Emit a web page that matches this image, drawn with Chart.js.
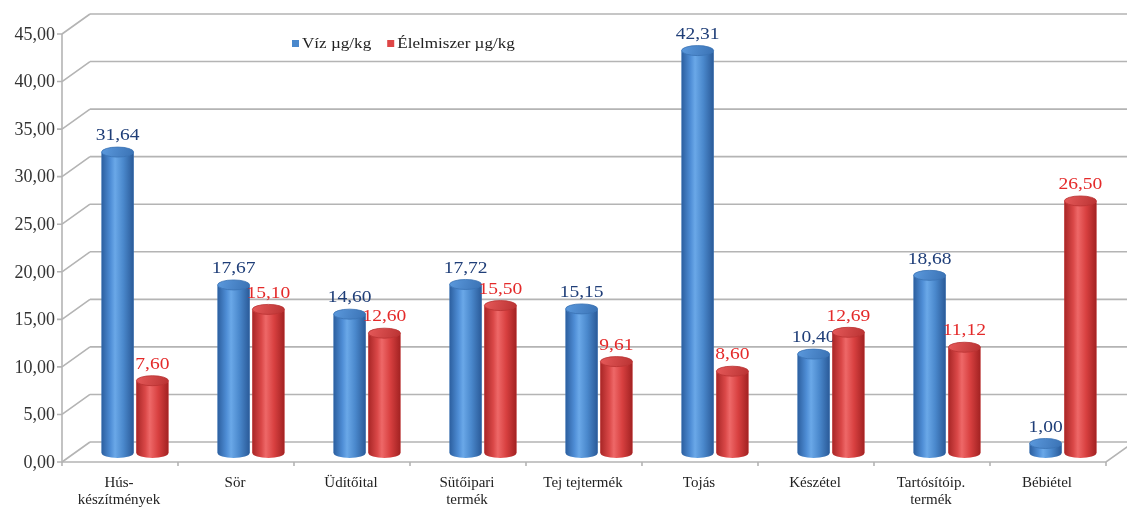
<!DOCTYPE html>
<html>
<head>
<meta charset="utf-8">
<script src="https://cdn.jsdelivr.net/npm/chart.js@4/dist/chart.umd.min.js"></script>
<style>
  html, body { margin: 0; padding: 0; background: #ffffff; }
  #wrap { width: 1127px; height: 507px; }
</style>
</head>
<body>
<div id="wrap"><canvas id="chart"></canvas></div>
<script>
// Categories (x axis) and the two series
const categories = [
  ["Hús-", "készítmények"], "Sör", "Üdítőital", ["Sütőipari", "termék"],
  "Tej tejtermék", "Tojás", "Készétel", ["Tartósítóip.", "termék"], "Bébiétel"
];
const vizValues        = [31.64, 17.67, 14.60, 17.72, 15.15, 42.31, 10.40, 18.68, 1.00];
const elelmiszerValues = [ 7.60, 15.10, 12.60, 15.50,  9.61,  8.60, 12.69, 11.12, 26.50];
const seriesNames = ["Víz µg/kg", "Élelmiszer µg/kg"];
const yMin = 0, yMax = 45, yStep = 5;

const SERIF = "'Liberation Serif', 'Times New Roman', serif";

// colour ramps for the cylinders
const palettes = [
  { base: "#4A88CC", label: "#1F3E78", top: "#5B99DD", topEdge: "#3A72B4",
    ramp: ["#2C5F9F", "#4F8ED6", "#6AA8E8", "#4A88CC", "#2A5A98"] },
  { base: "#DE4646", label: "#E42A2A", top: "#E65A5A", topEdge: "#B93232",
    ramp: ["#A82626", "#DA4848", "#EE6868", "#D84040", "#A22222"] }
];

// depth offsets: front plane and back wall relative to the bar plane
const FRONT = { dx: -15, dy: 9 };
const BACK  = { dx: 13,  dy: -11 };
const GRID = "#B4B4B4";

// text drawn slightly widened, as in the printed original
function wideText(ctx, text, x, y, stretch) {
  ctx.save();
  ctx.translate(x, y);
  ctx.scale(stretch, 1);
  ctx.fillText(text, 0, 0);
  ctx.restore();
}

const depthFrame = {
  id: "depthFrame",
  beforeDatasetsDraw(chart) {
    const { ctx, chartArea: a, scales: { y } } = chart;
    const W = chart.width;
    ctx.save();
    ctx.strokeStyle = GRID;
    ctx.lineWidth = 1.6;
    for (let v = yMin; v <= yMax; v += yStep) {
      const py = y.getPixelForValue(v);
      ctx.beginPath();
      // back wall line
      ctx.moveTo(a.left + BACK.dx, py + BACK.dy);
      ctx.lineTo(W, py + BACK.dy);
      // side wall diagonal
      ctx.moveTo(a.left + FRONT.dx, py + FRONT.dy);
      ctx.lineTo(a.left + BACK.dx, py + BACK.dy);
      // front tick
      ctx.moveTo(a.left + FRONT.dx - 5, py + FRONT.dy);
      ctx.lineTo(a.left + FRONT.dx, py + FRONT.dy);
      ctx.stroke();
    }
    const y0 = y.getPixelForValue(yMin), yT = y.getPixelForValue(yMax);
    ctx.beginPath();
    ctx.moveTo(a.left + FRONT.dx, yT + FRONT.dy);
    ctx.lineTo(a.left + FRONT.dx, y0 + FRONT.dy);
    ctx.lineTo(a.right + FRONT.dx, y0 + FRONT.dy);
    ctx.lineTo(a.right + BACK.dx, y0 + BACK.dy);
    ctx.stroke();
    // category ticks on the front floor edge
    const n = categories.length;
    const step = (a.right - a.left) / n;
    ctx.beginPath();
    for (let i = 0; i <= n; i++) {
      const px = a.left + FRONT.dx + step * i;
      ctx.moveTo(px, y0 + FRONT.dy);
      ctx.lineTo(px, y0 + FRONT.dy + 4);
    }
    ctx.stroke();
    ctx.restore();
  }
};

const cylinders = {
  id: "cylinders",
  afterDatasetsDraw(chart) {
    const { ctx } = chart;
    chart.data.datasets.forEach((ds, di) => {
      const meta = chart.getDatasetMeta(di);
      const pal = palettes[di];
      meta.data.forEach((bar, i) => {
        const { x, y, base, width } = bar.getProps(["x", "y", "base", "width"], true);
        const rx = width / 2, ry = 5;
        const l = x - rx, r = x + rx;
        const g = ctx.createLinearGradient(l, 0, r, 0);
        pal.ramp.forEach((c, k) => g.addColorStop([0, 0.28, 0.42, 0.68, 1][k], c));
        ctx.save();
        ctx.beginPath();
        ctx.moveTo(l, y);
        ctx.lineTo(l, base);
        ctx.ellipse(x, base, rx, ry, 0, Math.PI, 0, true);
        ctx.lineTo(r, y);
        ctx.ellipse(x, y, rx, ry, 0, 0, Math.PI, false);
        ctx.closePath();
        ctx.fillStyle = g;
        ctx.fill();
        const tg = ctx.createLinearGradient(l, y - ry, r, y + ry);
        tg.addColorStop(0, pal.top);
        tg.addColorStop(1, pal.topEdge);
        ctx.beginPath();
        ctx.ellipse(x, y, rx, ry, 0, 0, Math.PI * 2);
        ctx.fillStyle = tg;
        ctx.fill();
        ctx.strokeStyle = pal.topEdge;
        ctx.lineWidth = 0.8;
        ctx.stroke();
        // value label
        ctx.fillStyle = pal.label;
        ctx.font = "16px " + SERIF;
        ctx.textAlign = "center";
        ctx.textBaseline = "middle";
        wideText(ctx, ds.data[i].toFixed(2).replace(".", ","), x, y - 16, 1.22);
        ctx.restore();
      });
    });
  }
};

const legendBox = {
  id: "legendBox",
  afterDraw(chart) {
    const { ctx } = chart;
    const stretch = 1.14;
    ctx.save();
    ctx.font = "15px " + SERIF;
    ctx.textBaseline = "middle";
    ctx.textAlign = "left";
    let lx = 292;
    const ly = 44;
    seriesNames.forEach((name, i) => {
      ctx.fillStyle = palettes[i].base;
      ctx.fillRect(lx, ly - 4, 7, 7);
      ctx.fillStyle = "#222222";
      wideText(ctx, name, lx + 10, ly, stretch);
      lx += 10 + ctx.measureText(name).width * stretch + 16;
    });
    ctx.restore();
  }
};

new Chart(document.getElementById("chart"), {
  type: "bar",
  data: {
    labels: categories,
    datasets: [
      { label: seriesNames[0], data: vizValues, backgroundColor: palettes[0].base, borderWidth: 0 },
      { label: seriesNames[1], data: elelmiszerValues, backgroundColor: palettes[1].base, borderWidth: 0 }
    ]
  },
  options: {
    responsive: true,
    maintainAspectRatio: false,
    animation: false,
    layout: { padding: { top: 25, right: 6, left: 0, bottom: 0 } },
    plugins: { legend: { display: false }, tooltip: { enabled: false } },
    datasets: { bar: { categoryPercentage: 0.6, barPercentage: 0.92 } },
    scales: {
      x: {
        grid: { display: false },
        border: { display: false },
        ticks: {
          color: "#222222",
          font: { family: SERIF, size: 15, lineHeight: 1.15 },
          padding: 13,
          labelOffset: -16,
          maxRotation: 0,
          autoSkip: false
        },
        afterFit(scale) { scale.height = 54; scale.paddingLeft = 0; scale.paddingRight = 0; }
      },
      y: {
        min: yMin,
        max: yMax,
        grid: { display: false },
        border: { display: false },
        ticks: {
          stepSize: yStep,
          color: "#333333",
          font: { family: SERIF, size: 18 },
          padding: 14,
          labelOffset: 10,
          callback: v => Number(v).toFixed(2).replace(".", ",")
        },
        afterFit(scale) { scale.width = 77; scale.paddingTop = 0; scale.paddingBottom = 0; }
      }
    }
  },
  plugins: [depthFrame, cylinders, legendBox]
});
</script>
</body>
</html>
